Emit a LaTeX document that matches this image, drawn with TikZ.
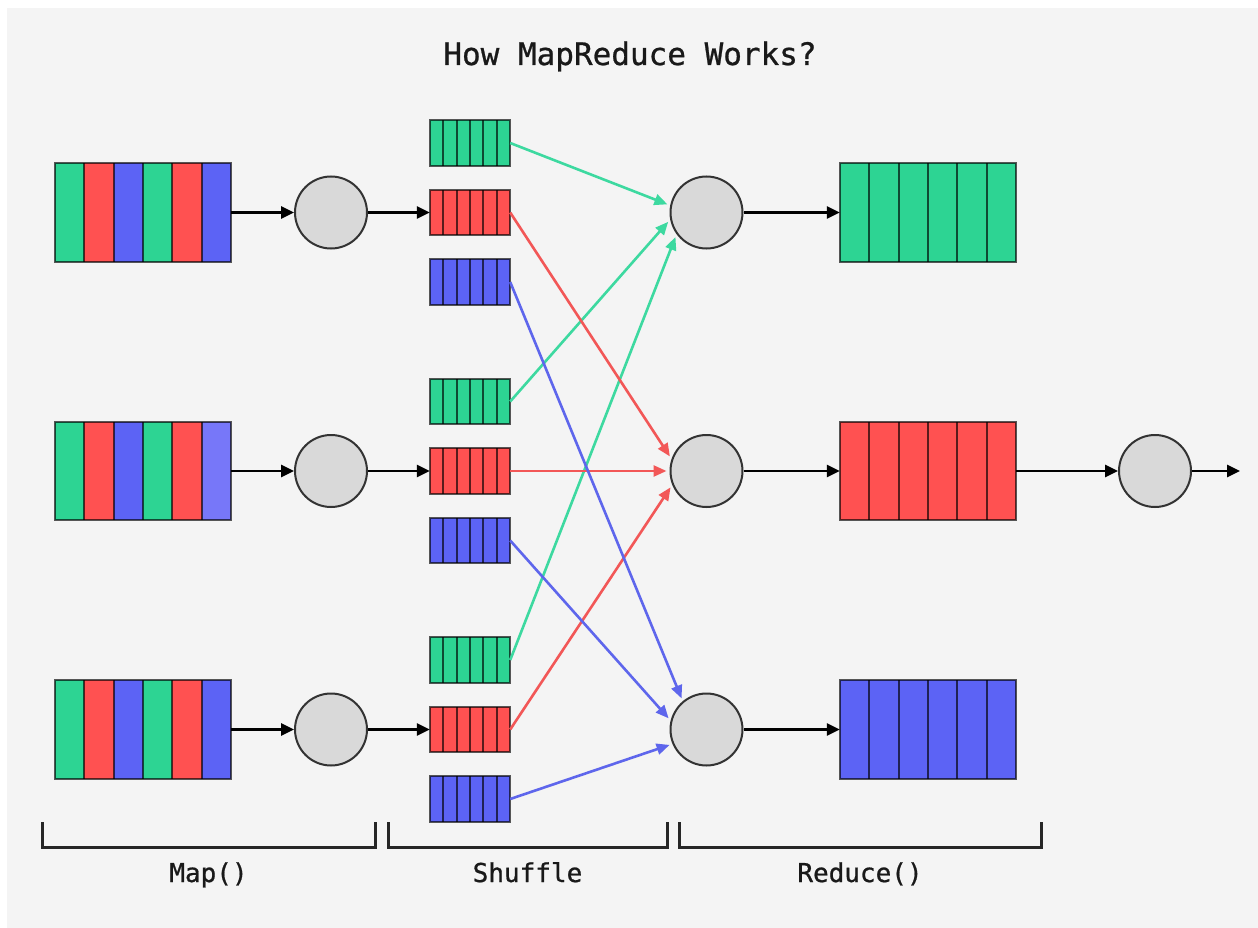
\documentclass[tikz,border=0pt]{standalone}
\usepackage{fontspec}
\setmonofont{DejaVu Sans Mono}
\newfontfamily\medmono{DejaVu Sans Mono}[FakeBold=0.8]
\usetikzlibrary{arrows.meta,calc}

\definecolor{bg}{HTML}{F4F4F4}
\definecolor{mgreen}{HTML}{2DD493}
\definecolor{mred}{HTML}{FF5151}
\definecolor{mblue}{HTML}{5C63F5}
\definecolor{mlblue}{HTML}{7777F9}
\definecolor{disc}{HTML}{D9D9D9}
\definecolor{lgreen}{HTML}{3DD9A0}
\definecolor{lred}{HTML}{F25757}
\definecolor{lblue}{HTML}{5E66EC}

% fill a block node with six vertical cells and draw the cell dividers
\newcommand\cells[2]{%
  \foreach \col [count=\i from 0] in {#2} {
    \fill[\col] ($(#1.north west)!{\i/6}!(#1.north east)$) rectangle
                ($(#1.south west)!{(\i+1)/6}!(#1.south east)$);
  }
  \foreach \i in {1,...,5}
    \draw[divider] ($(#1.north west)!{\i/6}!(#1.north east)$) --
                   ($(#1.south west)!{\i/6}!(#1.south east)$);
  \draw[divider] (#1.north west) rectangle (#1.south east);
}

\begin{document}
\begin{tikzpicture}[x=1pt,y=-1pt,
  blk/.style={inner sep=0pt, minimum width=176pt, minimum height=98pt},
  sblk/.style={inner sep=0pt, minimum width=80pt, minimum height=45pt},
  divider/.style={draw=black, draw opacity=0.65, line width=2pt},
  proc/.style={circle, draw=black!80, line width=2pt, fill=disc,
               minimum size=72pt, inner sep=0pt},
  flow/.style={line width=2.8pt, black, -{Triangle[length=13pt,width=12pt]}},
  link/.style={line width=2.6pt, shorten >=3pt, -{Triangle[length=13pt,width=11pt]}},
  brk/.style={line width=3pt, black!85},
  lbl/.style={font=\medmono\fontsize{26}{28}\selectfont, text=black!90, anchor=base}
]
% canvas
\fill[white] (0,0) rectangle (1258,928);
\fill[bg] (7,8) rectangle (1258,928);
\useasboundingbox (0,0) rectangle (1258,928);

\node[font=\medmono\fontsize{31}{34}\selectfont, text=black!90, anchor=base] (title) at (630,65) {How MapReduce Works?};

% input splits
\node[blk] (in1) at (143,212.5) {};
\node[blk] (in2) at (143,471) {};
\node[blk] (in3) at (143,729.5) {};
\cells{in1}{mgreen,mred,mblue,mgreen,mred,mblue}
\cells{in2}{mgreen,mred,mblue,mgreen,mred,mlblue}
\cells{in3}{mgreen,mred,mblue,mgreen,mred,mblue}

% map workers
\node[proc] (m1) at (331,212.5) {};
\node[proc] (m2) at (331,471) {};
\node[proc] (m3) at (331,729.5) {};

% shuffled partitions
\foreach \r/\y in {1/212.5,2/471,3/729.5} {
  \node[sblk] (g\r) at (470,\y-69.5) {};
  \node[sblk] (s\r) at (470,\y) {};
  \node[sblk] (b\r) at (470,\y+69.5) {};
}
\foreach \r in {1,2,3} {
  \cells{g\r}{mgreen,mgreen,mgreen,mgreen,mgreen,mgreen}
  \cells{s\r}{mred,mred,mred,mred,mred,mred}
  \cells{b\r}{mblue,mblue,mblue,mblue,mblue,mblue}
}

% reduce workers
\node[proc] (r1) at (706.5,212.5) {};
\node[proc] (r2) at (706.5,471) {};
\node[proc] (r3) at (706.5,729.5) {};

% reduced outputs
\node[blk] (o1) at (928,212.5) {};
\node[blk] (o2) at (928,471) {};
\node[blk] (o3) at (928,729.5) {};
\cells{o1}{mgreen,mgreen,mgreen,mgreen,mgreen,mgreen}
\cells{o2}{mred,mred,mred,mred,mred,mred}
\cells{o3}{mblue,mblue,mblue,mblue,mblue,mblue}

% final worker
\node[proc] (f) at (1155,471) {};
\coordinate (end) at (1240,471);

% map stage flows
\foreach \r in {1,2,3} {
  \draw[flow] (in\r.east) -- (m\r.west);
  \draw[flow] (m\r.east) -- (s\r.west);
  \draw[flow] (r\r.east) -- (o\r.west);
}
\draw[flow] (o2.east) -- (f.west);
\draw[flow] (f.east) -- (end);

% shuffle links
\draw[link, lgreen] (g1.east) -- (r1.169);
\draw[link, lgreen] (g2.east) -- (r1.191);
\draw[link, lgreen] (g3.east) -- (r1.216);
\draw[link, lred] (s1.east) -- (r2.161);
\draw[link, lred] (s2.east) -- (r2.180);
\draw[link, lred] (s3.east) -- (r2.202);
\draw[link, lblue] (b1.east) -- (r3.130);
\draw[link, lblue] (b2.east) -- (r3.166);
\draw[link, lblue] (b3.east) -- (r3.203);

% stage brackets
\draw[brk] (42,822) -- (42,847) -- (375,847) -- (375,822);
\draw[brk] (388,822) -- (388,847) -- (667,847) -- (667,822);
\draw[brk] (679,822) -- (679,847) -- (1041,847) -- (1041,822);
\node[lbl] (lmap) at (208.5,882) {Map()};
\node[lbl] (lshuf) at (527.5,882) {Shuffle};
\node[lbl] (lred) at (860,882) {Reduce()};
\end{tikzpicture}
\end{document}
